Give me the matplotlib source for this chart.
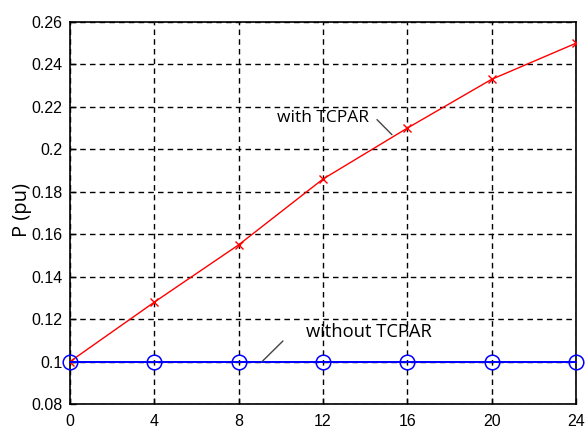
import matplotlib
matplotlib.use("Agg")
from matplotlib import pyplot as plt

# hours and transmitted power (pu)
horas = [0, 4, 8, 12, 16, 20, 24]
p_com_tcpar = [0.100, 0.128, 0.155, 0.186, 0.210, 0.233, 0.250]
p_sem_tcpar = [0.100, 0.100, 0.100, 0.100, 0.100, 0.100, 0.100]

y_ticks = [0.08, 0.1, 0.12, 0.14, 0.16, 0.18, 0.2, 0.22, 0.24, 0.26]
y_labels = ['0.08', '0.1', '0.12', '0.14', '0.16', '0.18', '0.2', '0.22', '0.24', '0.26']

fig = plt.figure(figsize=(5.85, 4.29), dpi=100)
ax = fig.add_axes([0.1197, 0.0583, 0.8649, 0.8904])

ax.plot(horas, p_com_tcpar, color='red', lw=1, marker='x', ms=6, mew=1, zorder=3)
ax.plot(horas, p_sem_tcpar, color='blue', lw=1.4, marker='o', ms=10.5, mfc='none', mew=1.1,
        zorder=3, clip_on=False)

ax.set_xlim(0, 24)
ax.set_ylim(0.08, 0.26)
ax.set_xticks(horas)
ax.set_yticks(y_ticks)
ax.set_yticklabels(y_labels)
ax.tick_params(direction='in', length=4, labelsize=11.5, width=1)
ax.tick_params(axis='x', pad=7.5)
ax.tick_params(axis='y', pad=5.5)
for lab in ax.get_xticklabels() + ax.get_yticklabels():
    lab.set_family('Liberation Sans')
ax.grid(True, color='black', linestyle=(0, (4, 3)), linewidth=1)
for s in ax.spines.values():
    s.set_linewidth(1.2)

# labels with leader lines
ax.text(9.82, 0.2149, 'with TCPAR', fontsize=12.5, family='Open Sans',
        va='center', ha='left')
ax.annotate('', xy=(15.27, 0.2069), xytext=(14.56, 0.2140),
            arrowprops=dict(arrowstyle='-', color='#444444', lw=1, shrinkA=0, shrinkB=0))
ax.text(11.2, 0.1140, 'without TCPAR', fontsize=13.2, family='Open Sans',
        va='center', ha='left')
ax.annotate('', xy=(9.11, 0.1), xytext=(10.10, 0.1097),
            arrowprops=dict(arrowstyle='-', color='#444444', lw=1, shrinkA=0, shrinkB=0))

fig.text(0.0376, 0.51, 'P (pu)', rotation=90, fontsize=14.5, family='Open Sans',
         ha='center', va='center')

fig.savefig('out.png', dpi=100)
